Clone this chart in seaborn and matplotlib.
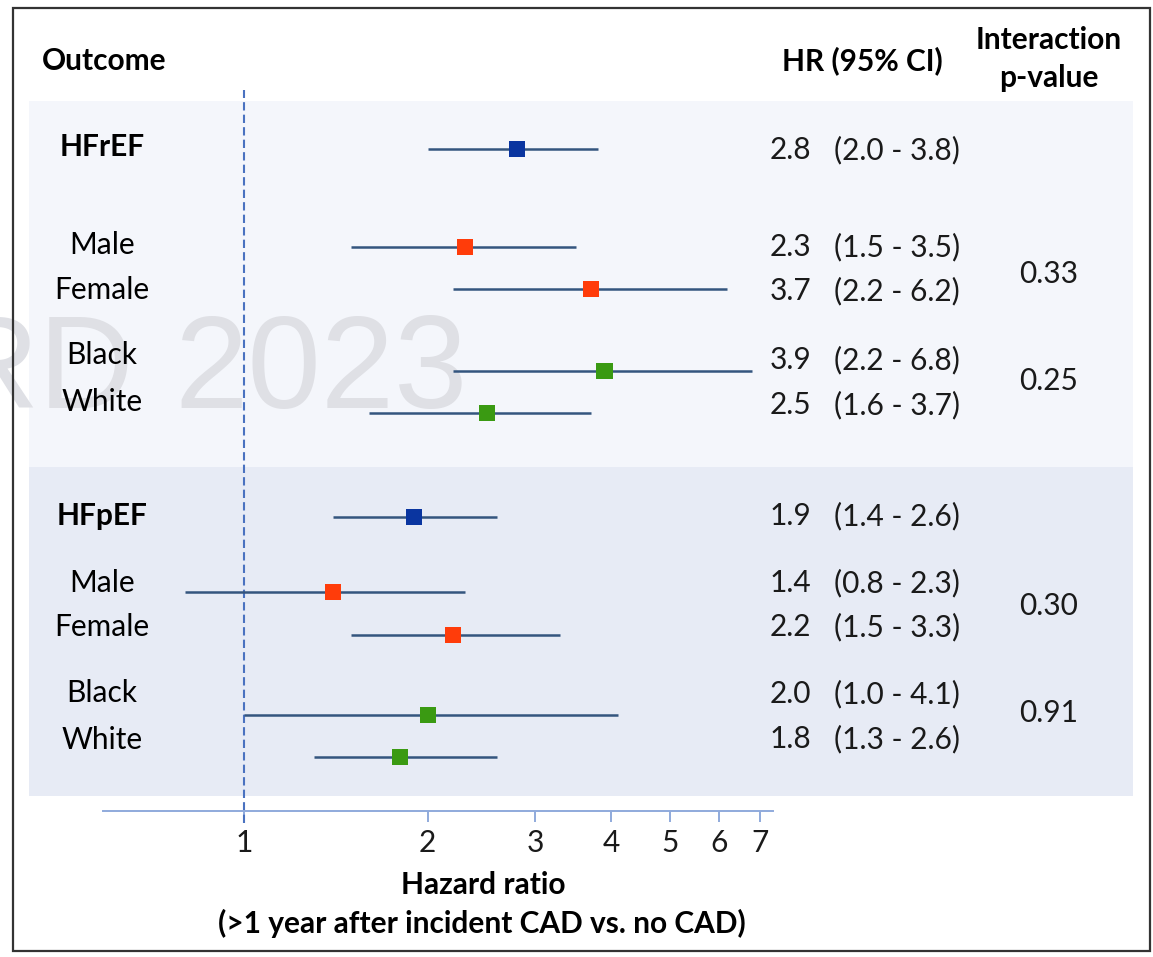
import numpy as np
import pandas as pd
import matplotlib
matplotlib.use("Agg")
import matplotlib.pyplot as plt
from matplotlib.patches import Rectangle
from matplotlib.ticker import NullLocator, FixedLocator, FixedFormatter
import seaborn as sns

# ---------------- data ----------------
labels = ["HFrEF", "Male", "Female", "Black", "White",
          "HFpEF", "Male", "Female", "Black", "White"]
bold_rows = [True, False, False, False, False, True, False, False, False, False]
hr = [2.8, 2.3, 3.7, 3.9, 2.5, 1.9, 1.4, 2.2, 2.0, 1.8]
ci_low = [2.0, 1.5, 2.2, 2.2, 1.6, 1.4, 0.8, 1.5, 1.0, 1.3]
ci_high = [3.8, 3.5, 6.2, 6.8, 3.7, 2.6, 2.3, 3.3, 4.1, 2.6]
groups = ["Overall", "Sex", "Sex", "Race", "Race",
          "Overall", "Sex", "Sex", "Race", "Race"]
p_values = ["0.33", "0.25", "0.30", "0.91"]
tick_values = [1, 2, 3, 4, 5, 6, 7]
tick_labels = ["1", "2", "3", "4", "5", "6", "7"]

# ---------------- layout (pixel rows) ----------------
W, H = 1153, 957
marker_rows = [149, 247, 289, 371, 413, 517, 592, 635, 715, 757]
label_rows = [147, 245, 290, 355, 402, 516, 583, 627, 693, 740]
hr_rows = [150, 247, 291, 360, 405, 516, 583, 627, 694, 739]
p_rows = [274, 381, 606, 713]

palette = {"Overall": "#0A35A0", "Sex": "#FF3C0A", "Race": "#3A9A12"}

df = pd.DataFrame({"label": labels, "hr": hr, "lo": ci_low, "hi": ci_high,
                   "group": groups, "row": marker_rows})

sns.set_theme(style="white")
plt.rcParams["font.family"] = ["Lato", "DejaVu Sans"]

fig = plt.figure(figsize=(W / 100, H / 100), dpi=100)
fig.patch.set_facecolor("white")

# background axes in pixel coordinates
bg = fig.add_axes([0, 0, 1, 1])
bg.set_xlim(0, W)
bg.set_ylim(H, 0)
bg.axis("off")

bg.add_patch(Rectangle((29, 101), 1104, 366, facecolor="#F4F6FB", edgecolor="none", zorder=0))
bg.add_patch(Rectangle((29, 467), 1104, 329, facecolor="#E7EBF5", edgecolor="none", zorder=0))

# watermark
wm_color = "#DFE0E5"
bg.text(468, 408, "2023", fontsize=95, family="Liberation Sans", color=wm_color,
        ha="right", va="baseline", zorder=1)
bg.text(134, 408, "RD", fontsize=95, family="Liberation Sans", color=wm_color,
        ha="right", va="baseline", zorder=1)

# frame
bg.add_patch(Rectangle((13, 8), 1137, 943, fill=False, edgecolor="#333333", lw=1.6, zorder=10))

fs = 21.5
txt = "#1a1a1a"
# headers
bg.text(42, 61, "Outcome", fontsize=fs, fontweight="bold", color="black", ha="left", va="center", zorder=5)
bg.text(862, 61, "HR (95% CI)", fontsize=fs, fontweight="bold", color="black", ha="center", va="center", zorder=5)
bg.text(1049, 40, "Interaction", fontsize=fs, fontweight="bold", color="black", ha="center", va="center", zorder=5)
bg.text(1049, 78, "p-value", fontsize=fs, fontweight="bold", color="black", ha="center", va="center", zorder=5)

for lab, b, y in zip(labels, bold_rows, label_rows):
    bg.text(102, y, lab, fontsize=fs, fontweight="bold" if b else "normal",
            color="black", ha="center", va="center", zorder=5)

for v, lo, hi, y in zip(hr, ci_low, ci_high, hr_rows):
    bg.text(770, y, f"{v:.1f}", fontsize=fs, color=txt, ha="left", va="center", zorder=5)
    bg.text(834, y, f"({lo:.1f} - {hi:.1f})", fontsize=fs, color=txt, ha="left", va="center", zorder=5)

for p, y in zip(p_values, p_rows):
    bg.text(1049, y, p, fontsize=fs, color=txt, ha="center", va="center", zorder=5)

bg.text(483, 885, "Hazard ratio", fontsize=fs, fontweight="bold", color="black", ha="center", va="center", zorder=5)
bg.text(482, 923, "(>1 year after incident CAD vs. no CAD)", fontsize=fs, fontweight="bold",
        color="black", ha="center", va="center", zorder=5)

# forest axes
x_left, x_right, x_one, decade = 103, 773, 244, 610
ax = fig.add_axes([x_left / W, (H - 823) / H, (x_right - x_left) / W, (823 - 90) / H])
ax.patch.set_alpha(0)
ax.set_xscale("log")
ax.set_xlim(10 ** ((x_left - x_one) / decade), 10 ** ((x_right - x_one) / decade))
ax.set_ylim(823, 90)

ax.axvline(1, color="#4A72C0", lw=1.5, linestyle=(0, (4, 2)), zorder=1)
ax.hlines(df["row"], df["lo"], df["hi"], color="#34557E", lw=1.8, zorder=2)
sns.scatterplot(data=df, x="hr", y="row", hue="group", palette=palette, marker="s",
                s=135, linewidth=0, legend=False, ax=ax, zorder=3)

for s in ["top", "right", "left"]:
    ax.spines[s].set_visible(False)
ax.spines["bottom"].set_position(("data", 811))
ax.spines["bottom"].set_color("#8FAADC")
ax.spines["bottom"].set_linewidth(1.4)
ax.xaxis.set_major_locator(FixedLocator(tick_values))
ax.xaxis.set_major_formatter(FixedFormatter(tick_labels))
ax.xaxis.set_minor_locator(NullLocator())
ax.tick_params(axis="x", direction="out", length=8, width=1.4, color="#8FAADC",
               labelsize=fs, labelcolor=txt, pad=5, bottom=True)
ax.set_yticks([])
ax.set_xlabel("")
ax.set_ylabel("")

fig.savefig("out.png", dpi=100, facecolor="white")
